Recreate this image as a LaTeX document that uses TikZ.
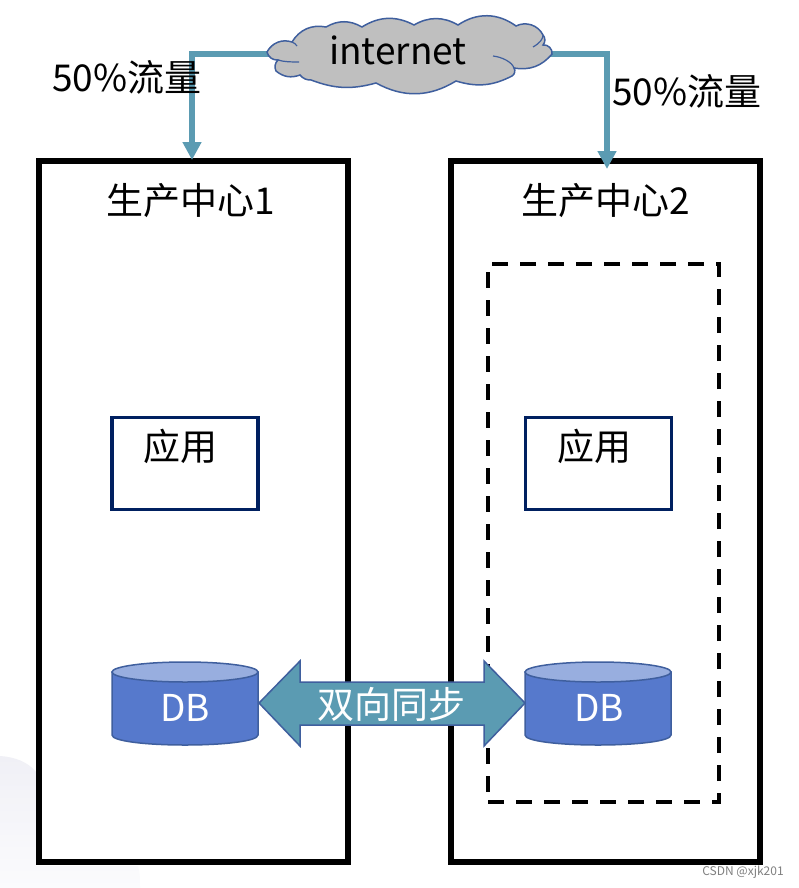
\documentclass[tikz,border=0pt]{standalone}
\usepackage{fontspec}
\setmainfont{Noto Sans CJK SC}
\usetikzlibrary{arrows.meta,shadings}
\definecolor{teal1}{HTML}{5B9BB2}
\definecolor{dbblue}{HTML}{5679CC}
\definecolor{dbtop}{HTML}{98AEDF}
\definecolor{edgeblue}{HTML}{3F5F9E}
\definecolor{navy}{HTML}{002060}
\definecolor{blobA}{HTML}{F0F0F6}
\definecolor{blobB}{HTML}{FBFBFD}
\tikzset{
  x=1pt,y=-1pt,
  site/.style={draw=black,line width=6pt,fill=white,minimum width=309pt,minimum height=701pt,inner sep=0pt,outer sep=0pt},
  appbox/.style={draw=navy,line width=3.5pt,fill=white,minimum width=146pt,minimum height=92pt,inner sep=0pt,outer sep=0pt},
  standby/.style={draw=black,line width=4.5pt,dash pattern=on 16pt off 12pt,minimum width=231pt,minimum height=538pt,inner sep=0pt,outer sep=0pt},
  lbl/.style={font=\fontsize{37}{42}\selectfont,inner sep=0pt,text=black},
  whitelbl/.style={lbl,text=white},
  flow/.style={draw=teal1,line width=6.5pt,-{Triangle[length=18pt,width=18pt,fill=teal1]}},
  dbbody/.style={fill=dbblue,draw=edgeblue,line width=1.5pt},
  dbcap/.style={fill=dbtop,draw=edgeblue,line width=1.5pt},
  cloudshape/.style={fill=black!25,draw=edgeblue,line width=1.5pt},
  cloudfold/.style={draw=edgeblue,line width=1.2pt},
}
\begin{document}
\begin{tikzpicture}
\useasboundingbox (0,0) rectangle (798,888);
\fill[white] (0,0) rectangle (798,888);
% faint background shape
\shade[top color=blobA,bottom color=blobB] (0,756) .. controls (15,757) and (28,762) .. (36,772) -- (36,866) -- (138,866)
  .. controls (140,872) and (140,880) .. (140,888) -- (0,888) -- cycle;

% sites
\node[site] (site1) at (193,511.5) {};
\node[site] (site2) at (605.5,511.5) {};
\node[standby] (standby) at (603.5,533) {};
\node[lbl] (title1) at (191,201) {生产中心1};
\node[lbl] (title2) at (606,201) {生产中心2};

% applications
\node[appbox] (app1) at (185,463.5) {};
\node[appbox] (app2) at (598.5,463.5) {};
\node[lbl] (applbl1) at (180,446) {应用};
\node[lbl] (applbl2) at (594,446) {应用};

% flows
\coordinate (cloudL) at (272,54);
\coordinate (cloudR) at (548,54);
\coordinate (tip1) at (192,160);
\coordinate (tip2) at (607,169);
\draw[flow] (cloudL) -| (tip1);
\draw[flow] (cloudR) -| (tip2);

% cloud
\draw[cloudshape] (267,52) to[bend left=40] (292,42) to[bend left=35] (326,27) to[bend left=30] (362,27)
  to[bend left=30] (414,25) to[bend left=30] (458,25) to[bend left=35] (516,26)
  to[bend left=45] (543,35) to[bend left=40] (543,45) to[bend left=55] (552,54)
  to[bend left=30] (514,68) to[bend left=45] (512,76) to[bend left=22] (456,81)
  to[bend left=30] (376,83) to[bend left=18] (311,80) to[bend left=25] (300,75)
  to[bend left=30] (276,71) to[bend left=35] (278,60) to[bend left=40] cycle;
\draw[cloudfold] (278,60) .. controls (284,62) and (292,62) .. (299,62);
\draw[cloudfold] (493,56) .. controls (502,57) and (512,62) .. (514,68);
\draw[cloudfold] (292,42) .. controls (294,43) and (296,44) .. (297,46);
\draw[cloudfold] (543,35) .. controls (543,39) and (540,43) .. (533,47);
\node[lbl] (internet) at (398,50) {internet};

\node[lbl] (flowlbl1) at (127,77) {50\%流量};
\node[lbl] (flowlbl2) at (687,91) {50\%流量};

% databases
\draw[dbbody] (112,672) -- (112,735) .. controls (112,741) and (145,745) .. (185,745)
  .. controls (225,745) and (258,741) .. (258,735) -- (258,672) -- cycle;
\draw[dbcap] (185,672) ellipse (73 and 10);
\node[whitelbl] (db1) at (185,708) {DB};
\draw[dbbody] (525,672) -- (525,735) .. controls (525,741) and (558,745) .. (598,745)
  .. controls (638,745) and (671,741) .. (671,735) -- (671,672) -- cycle;
\draw[dbcap] (598,672) ellipse (73 and 10);
\node[whitelbl] (db2) at (599,708) {DB};

% two-way sync arrow
\draw[fill=teal1,draw=edgeblue,line width=1.5pt] (259,703) -- (300,661) -- (300,682) -- (484,682)
  -- (484,661) -- (525,703) -- (484,746) -- (484,725) -- (300,725) -- (300,746) -- cycle;
\node[whitelbl] (synclbl) at (391,704) {双向同步};

\node[font=\fontsize{12}{14}\selectfont,text=black!50,inner sep=0pt] (mark) at (743,872) {CSDN @xjk201};
\end{tikzpicture}
\end{document}
